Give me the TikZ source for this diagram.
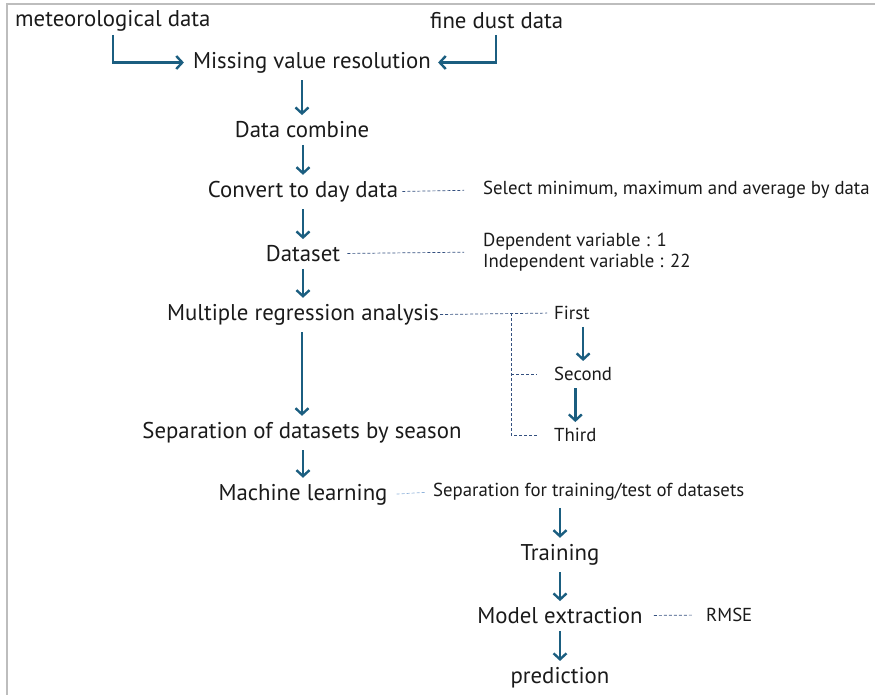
\documentclass[tikz,border=0pt]{standalone}
\usepackage{fontspec}
\setmainfont{PT Sans}
\usetikzlibrary{arrows.meta}
\definecolor{cFlow}{HTML}{1B5E80}
\definecolor{cNote}{HTML}{34507F}
\definecolor{cNoteLt}{HTML}{8FB2DA}
\definecolor{cInk}{HTML}{1A1A1A}
\definecolor{cFrame}{HTML}{BDBDBD}

\begin{document}
\begin{tikzpicture}[x=1pt, y=-1pt, text=cInk,
  stage/.style={inner sep=1pt, yshift=-2.5pt, font=\fontsize{22.8}{25}\selectfont},
  memo/.style={inner sep=1pt, yshift=-2pt, font=\fontsize{18.8}{21}\selectfont, align=left},
  flow/.style={draw=cFlow, line width=2.6pt, -{Straight Barb[length=6pt, width=13pt, line width=2.4pt]}},
  link/.style={draw=cNote, line width=0.7pt, dash pattern=on 3pt off 2pt},
  >={Straight Barb}]
  \useasboundingbox (0,0) rectangle (875,695);
  \draw[cFrame, line width=1.3pt] (7,695) -- (7,4) -- (875,4);
  % main column
  \node[stage, anchor=west] (met) at (14,18) {meteorological data};
  \node[stage, anchor=west] (dust) at (429,18) {fine dust data};
  \node[stage] (mvr)   at (312,60)  {Missing value resolution};
  \node[stage] (comb)  at (302,127) {Data combine};
  \node[stage] (conv)  at (303,189) {Convert to day data};
  \node[stage] (dset)  at (303,251) {Dataset};
  \node[stage] (mra)   at (303,312) {Multiple regression analysis};
  \node[stage] (sep)   at (302,430) {Separation of datasets by season};
  \node[stage] (ml)    at (303,492) {Machine learning};
  \node[stage] (train) at (560,552) {Training};
  \node[stage] (model) at (560,613) {Model extraction};
  \node[stage] (pred)  at (560,675) {prediction};
  % side notes
  \node[memo, anchor=west] (selnote) at (482,188) {Select minimum, maximum and average by data};
  \node[memo, anchor=west] (varnote) at (482,250) {Dependent variable : 1\\Independent variable : 22};
  \node[memo, anchor=west] (first)  at (553,311) {First};
  \node[memo, anchor=west] (second) at (553,372) {Second};
  \node[memo, anchor=west] (third)  at (553,433) {Third};
  \node[memo, anchor=west] (splnote) at (432,490) {Separation for training/test of datasets};
  \node[memo, anchor=west] (rmse)   at (705,613) {RMSE};
  \coordinate (metx) at (113,35);
  \coordinate (dustx) at (496,35);
  \coordinate (split) at (511,313);
  % arrows
  \draw[flow, shorten >=8pt] (metx) |- (mvr.west);
  \draw[flow, shorten >=6pt] (dustx) |- (mvr.east);
  \foreach \a/\b in {mvr/comb, comb/conv, conv/dset, dset/mra, mra/sep, sep/ml, splnote/train, train/model, model/pred, first/second, second/third}
    \draw[flow, shorten <=6pt, shorten >=5pt] (\b.north |- \a.south) -- (\b.north);
  % dashed links
  \draw[link, shorten <=3pt, shorten >=18pt] (conv.east) -- (selnote.west);
  \draw[link, shorten <=6pt, shorten >=18pt] (dset.east) -- (varnote.west);
  \draw[link, shorten >=6pt] (mra.east) -- (first.west);
  \draw[link, shorten >=16pt] (split) |- (third.west);
  \draw[link, shorten >=16pt] (split |- second.west) -- (second.west);
  \draw[link, draw=cNoteLt, shorten <=8pt, shorten >=6pt] (ml.east) -- (splnote.west);
  \draw[link, shorten <=10pt, shorten >=12pt] (model.east) -- (rmse.west);
\end{tikzpicture}
\end{document}
